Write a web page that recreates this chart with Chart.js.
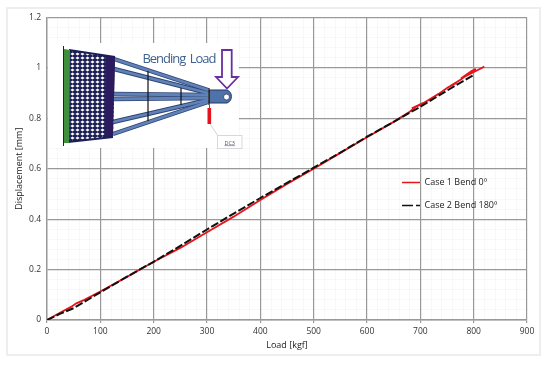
<!DOCTYPE html>
<html>
<head>
<meta charset="utf-8">
<script src="https://cdn.jsdelivr.net/npm/chart.js@4"></script>
<style>
    html, body { margin: 0; padding: 0; background: #fff; }
    #wrap { position: relative; width: 550px; height: 366px; overflow: hidden; }
    #frame { position: absolute; left: 6px; top: 7px; width: 531px; height: 345px; border: 2px solid #eee; box-sizing: content-box; }
    #chart { position: absolute; left: 0; top: 0; filter: blur(0.35px); }
    #inset { position: absolute; left: 0; top: 0; filter: blur(0.4px); }
</style>
</head>
<body>
<div id="wrap">
    <div id="frame"></div>
    <canvas id="chart" width="550" height="366"></canvas>
    <svg id="inset" width="550" height="366" viewBox="0 0 550 366">
        <defs>
            <pattern id="mesh" width="5" height="4" patternUnits="userSpaceOnUse">
                <rect width="5" height="4" fill="#1b1f55"/>
                <path d="M2.5 0.5 L4.6 2 L2.5 3.5 L0.4 2 Z" fill="#fff"/>
            </pattern>
        </defs>
        <rect x="48" y="43" width="191" height="105" fill="#fff"/>
        <!-- struts -->
        <g stroke="#2f4474" stroke-width="4.4" fill="none">
            <path d="M114 59 L208 90"/><path d="M114 69 L208 93"/>
            <path d="M113 94 L208 95"/><path d="M113 99 L208 98"/>
            <path d="M113 122 L208 100"/><path d="M113 134 L208 102"/>
        </g>
        <g stroke="#5f82b8" stroke-width="2.8" fill="none">
            <path d="M114 59 L208 90"/><path d="M114 69 L208 93"/>
            <path d="M113 94 L208 95"/><path d="M113 99 L208 98"/>
            <path d="M113 122 L208 100"/><path d="M113 134 L208 102"/>
        </g>
        <path d="M148 71 V121 M181 88 V105" stroke="#111" stroke-width="1.2"/>
        <!-- cage -->
        <path d="M69 50 L115 57 L113 137 L68 142 Z" fill="url(#mesh)"/>
        <path d="M106 56 L115 57 L113 137 L105 138 Z" fill="#2c1a5e"/>
        <path d="M69 50 L115 57 M113 137 L68 142" stroke="#1b1f55" stroke-width="2" fill="none"/>
        <path d="M64 49 L70 50 L69 143 L64 143 Z" fill="#3f8f3c"/>
        <path d="M63.5 46 V146" stroke="#222" stroke-width="1"/>
        <!-- head -->
        <path d="M209 90 L227 90 A7 7 0 0 1 227 103 L209 103 Z" fill="#4f72aa" stroke="#26365f" stroke-width="1"/>
        <circle cx="226.5" cy="97" r="3" fill="#fff" stroke="#26365f" stroke-width="0.8"/>
        <path d="M209 88 V105" stroke="#111" stroke-width="1.2"/>
        <!-- sensor -->
        <path d="M209.5 105 V108" stroke="#e02020" stroke-width="1"/>
        <rect x="207.5" y="108" width="3.6" height="16" fill="#e3141c"/>
        <path d="M210 124 L218 136" stroke="#c8c8c8" stroke-width="0.8"/>
        <rect x="217.5" y="135.5" width="24.5" height="13" fill="#fff" stroke="#d5d2dc" stroke-width="0.9"/>
        <text x="229.7" y="144.5" font-family="Open Sans" font-size="5.5" fill="#555" text-anchor="middle" text-decoration="underline">DC3</text>
        <!-- load arrow -->
        <path d="M222 50 H231.7 V77 H238 L227 88.5 L216 77 H222 Z" fill="#fff" stroke="#6a2ea0" stroke-width="1.8"/>
        <text x="142.5" y="62.7" font-family="Open Sans" font-size="13" fill="#40608f" textLength="74" xml:space="preserve">Bending  Load</text>
    </svg>
</div>
<script>
const case1Load = [0, 20, 45, 55, 70, 100, 150, 200, 250, 300, 350, 400, 450, 500, 550, 600, 650, 680, 694, 684, 700, 735, 752, 768, 756, 776, 790, 776, 796, 804, 784, 806, 820];
const case1Disp = [0, 0.024, 0.052, 0.066, 0.08, 0.113, 0.171, 0.231, 0.286, 0.348, 0.41, 0.476, 0.54, 0.6, 0.663, 0.725, 0.786, 0.826, 0.85, 0.84, 0.853, 0.898, 0.923, 0.94, 0.928, 0.954, 0.976, 0.958, 0.988, 0.996, 0.966, 0.99, 1.005];
const case2Load = [0, 25, 50, 100, 150, 200, 250, 300, 350, 400, 450, 500, 550, 600, 650, 700, 750, 800];
const case2Disp = [0, 0.025, 0.047, 0.11, 0.172, 0.231, 0.294, 0.359, 0.422, 0.484, 0.544, 0.604, 0.664, 0.727, 0.786, 0.846, 0.91, 0.972];
const seriesNames = ['Case 1 Bend 0º', 'Case 2 Bend 180º'];
const xTickLabels = ['0', '100', '200', '300', '400', '500', '600', '700', '800', '900'];
const yTickLabels = ['0', '0.2', '0.4', '0.6', '0.8', '1', '1.2'];

const toPoints = (xs, ys) => xs.map((x, i) => ({ x, y: ys[i] }));
const fontFamily = '"Open Sans", sans-serif';
const yStr = v => String(Math.round(v * 100) / 100);
const xMajor = v => xTickLabels.includes(String(v));
const yMajor = v => yTickLabels.includes(yStr(v));

// moves the legend onto the plot, the way the original has it
const placeLegend = {
    id: 'placeLegend',
    afterLayout(chart) {
        chart.legend.left = 388;
        chart.legend.top = 164;
    }
};

new Chart(document.getElementById('chart'), {
    type: 'scatter',
    plugins: [placeLegend],
    data: {
        datasets: [
            { label: seriesNames[0], data: toPoints(case1Load, case1Disp), showLine: true, borderColor: '#e8141c', backgroundColor: '#e8141c', borderWidth: 1.8, pointRadius: 0, order: 2 },
            { label: seriesNames[1], data: toPoints(case2Load, case2Disp), showLine: true, borderColor: '#111', backgroundColor: '#111', borderWidth: 2, borderDash: [8, 2.5], pointRadius: 0, order: 1 }
        ]
    },
    options: {
        responsive: false,
        animation: false,
        layout: { padding: { top: 17.5, right: 23, left: 0, bottom: 0 } },
        plugins: {
            tooltip: { enabled: false },
            legend: {
                position: 'chartArea',
                align: 'start',
                labels: {
                    boxWidth: 18,
                    boxHeight: 0,
                    padding: 14,
                    color: '#222',
                    font: { family: fontFamily, size: 9 },
                    generateLabels(chart) {
                        const items = Chart.defaults.plugins.legend.labels.generateLabels(chart);
                        items.sort((a, b) => a.datasetIndex - b.datasetIndex);
                        // legend sample is one long dash and one short one
                        items[0].lineDash = [];
                        items[1].lineDash = [11, 3, 4, 18];
                        items.forEach(it => { it.lineWidth = 1.6; });
                        return items;
                    }
                }
            }
        },
        scales: {
            x: {
                type: 'linear',
                min: 0,
                max: 900,
                afterFit: s => { s.height = 46; },
                title: { display: true, text: 'Load [kgf]', color: '#222', font: { family: fontFamily, size: 9 }, padding: { top: 0, bottom: 15 } },
                border: { color: '#999', width: 1.4 },
                grid: {
                    color: c => xMajor(c.tick.value) ? '#999' : 'rgba(0,0,0,0.04)',
                    lineWidth: c => xMajor(c.tick.value) ? 1.2 : 0.8,
                    tickColor: c => xMajor(c.tick.value) ? '#999' : 'rgba(0,0,0,0)',
                    tickLength: 3
                },
                ticks: {
                    stepSize: 20,
                    autoSkip: false,
                    maxRotation: 0,
                    padding: 3,
                    color: '#333',
                    font: { family: fontFamily, size: 8.5 },
                    callback: v => xMajor(v) ? String(v) : ''
                }
            },
            y: {
                min: 0,
                max: 1.2,
                afterFit: s => { s.width = 47; },
                title: { display: true, text: 'Displacement [mm]', color: '#222', font: { family: fontFamily, size: 9 }, padding: { top: 14, bottom: 0 } },
                border: { color: '#999', width: 1.4 },
                grid: {
                    color: c => yMajor(c.tick.value) ? '#999' : 'rgba(0,0,0,0.04)',
                    lineWidth: c => yMajor(c.tick.value) ? 1.2 : 0.8,
                    tickColor: 'rgba(0,0,0,0)',
                    tickLength: 3
                },
                ticks: {
                    stepSize: 0.04,
                    autoSkip: false,
                    padding: 3,
                    color: '#333',
                    font: { family: fontFamily, size: 8.5 },
                    callback: v => yMajor(v) ? yStr(v) : ''
                }
            }
        }
    }
});
</script>
</body>
</html>
